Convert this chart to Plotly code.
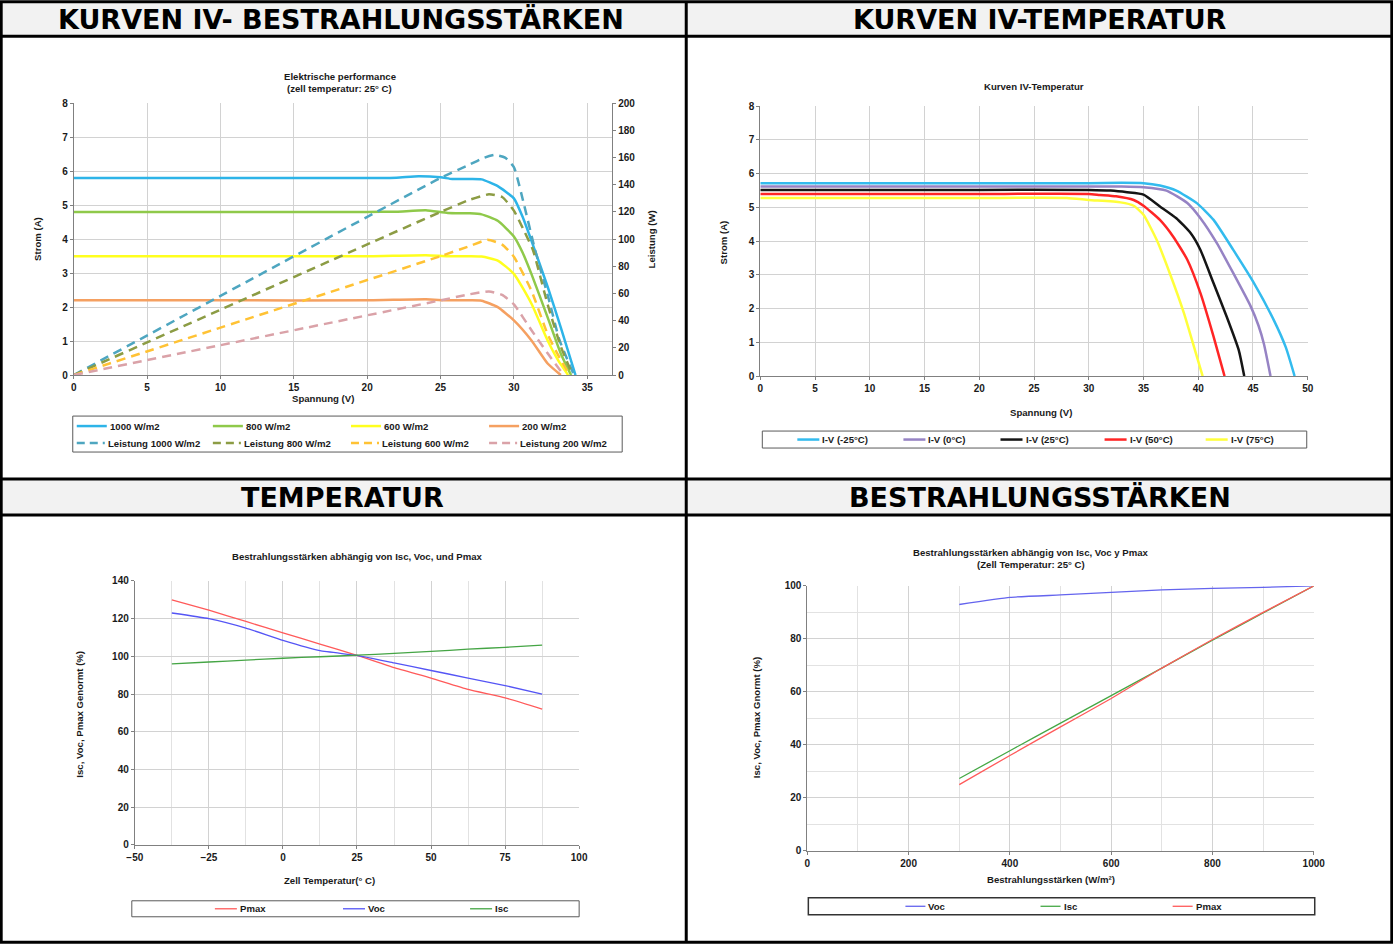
import plotly.graph_objects as go

# reference picture size
W, H = 1393, 944
# observed capture transform (image = S * page + O); positions below are given in picture pixels
SX, OX = 0.985, 8.3
SY, OY = 0.989, 4.7
FW, FH = 1407, 951
FONT = "Liberation Sans"
HFONT = "DejaVu Sans"

# ---------------- Chart 1: IV curves vs irradiance ----------------
c1_names_iv = ["1000 W/m2", "800 W/m2", "600 W/m2", "200 W/m2"]
c1_names_p = ["Leistung 1000 W/m2", "Leistung 800 W/m2", "Leistung 600 W/m2", "Leistung 200 W/m2"]
c1_colors_iv = ["#2db4e8", "#8fc94a", "#ffff1e", "#f5a061"]
c1_colors_p = ["#4ea6c0", "#8c9c44", "#ffc234", "#daa2a8"]

c1_v_1000 = [0, 10, 20, 22, 23.5, 25, 25.8, 27, 27.8, 28.9, 30.0, 30.6, 31.2, 32.3, 33.2, 34.2]
c1_i_1000 = [5.8, 5.8, 5.8, 5.81, 5.85, 5.82, 5.77, 5.77, 5.76, 5.56, 5.2, 4.65, 3.95, 2.6, 1.4, 0]
c1_v_800 = [0, 10, 20, 22, 24, 25.5, 27, 27.8, 28.9, 30.0, 30.6, 31.2, 32.3, 33.2, 33.9]
c1_i_800 = [4.8, 4.8, 4.8, 4.81, 4.85, 4.77, 4.76, 4.73, 4.54, 4.08, 3.6, 2.97, 1.7, 0.63, 0]
c1_v_600 = [0, 10, 20, 24, 25.5, 27, 27.8, 28.9, 30.0, 31.2, 32.3, 33.0, 33.7]
c1_i_600 = [3.5, 3.5, 3.5, 3.53, 3.5, 3.5, 3.49, 3.37, 2.98, 2.1, 1.02, 0.45, 0]
c1_v_200 = [0, 10, 20, 24, 25.5, 27, 27.8, 28.9, 30.0, 31.2, 32.3, 33.2]
c1_i_200 = [2.2, 2.2, 2.2, 2.23, 2.2, 2.2, 2.19, 2.0, 1.61, 1.02, 0.34, 0]

c1_pv_1000 = [0, 25, 27, 28, 28.7, 29.4, 30.0, 30.7, 31.4, 32.4, 33.1, 34.1]
c1_p_1000 = [0, 145, 155, 160, 162, 160, 153, 125, 94, 55, 26, 0]
c1_pv_800 = [0, 25, 27, 28.3, 29.2, 30.0, 30.7, 31.3, 32.3, 33.2, 34.0]
c1_p_800 = [0, 120, 129, 133, 131, 121, 106, 92, 52, 21, 0]
c1_pv_600 = [0, 25, 27, 28.2, 29.2, 30.0, 31.2, 32.3, 33.0, 33.8]
c1_p_600 = [0, 87.5, 95, 99.5, 96, 87, 62, 30, 15, 0]
c1_pv_200 = [0, 25, 27, 28.3, 29.2, 30.0, 31.2, 32.3, 33.4]
c1_p_200 = [0, 55, 59.5, 61.5, 59, 52, 33, 16, 0]

# ---------------- Chart 2: IV curves vs temperature ----------------
c2_names = ["I-V (-25°C)", "I-V (0°C)", "I-V (25°C)", "I-V (50°C)", "I-V (75°C)"]
c2_colors = ["#33bbee", "#9683c4", "#151515", "#ff2525", "#ffff3a"]
c2_v_m25 = [0, 10, 20, 30, 33, 35, 36.5, 38, 39.9, 41.4, 43.2, 45.1, 46.9, 48.0, 48.8]
c2_i_m25 = [5.72, 5.72, 5.72, 5.72, 5.73, 5.72, 5.65, 5.5, 5.12, 4.63, 3.74, 2.75, 1.66, 0.85, 0]
c2_v_0 = [0, 10, 20, 30, 33, 35, 37.1, 39.0, 40.2, 41.7, 43.2, 44.8, 45.5, 46.0, 46.6]
c2_i_0 = [5.62, 5.62, 5.62, 5.62, 5.62, 5.6, 5.5, 5.13, 4.68, 3.94, 3.05, 2.06, 1.5, 0.95, 0]
c2_v_25 = [0, 10, 20, 30, 32, 33.5, 35, 36.5, 38, 39.3, 40.2, 41.4, 42.6, 43.7, 44.2]
c2_i_25 = [5.52, 5.52, 5.52, 5.52, 5.5, 5.45, 5.38, 5.03, 4.68, 4.24, 3.74, 2.75, 1.76, 0.77, 0]
c2_v_50 = [0, 10, 20, 30, 31, 32.5, 34.1, 35, 36.5, 37.7, 39.0, 40.2, 41.4, 42.4]
c2_i_50 = [5.4, 5.4, 5.4, 5.4, 5.37, 5.33, 5.22, 5.05, 4.63, 4.14, 3.45, 2.46, 1.17, 0]
c2_v_75 = [0, 10, 20, 28, 30, 32.9, 34.1, 35, 36.2, 37.4, 38.7, 39.7, 40.4]
c2_i_75 = [5.28, 5.28, 5.28, 5.28, 5.22, 5.15, 5.05, 4.78, 4.04, 3.05, 1.86, 0.77, 0]

# ---------------- Chart 3: temperature dependence ----------------
c3_names = ["Pmax", "Voc", "Isc"]
c3_colors = ["#ff5a5a", "#5555f5", "#45a545"]
c3_temp = [-37.5, -25, -12.5, 0, 12.5, 25, 37.5, 50, 62.5, 75, 87.5]
c3_pmax = [130, 124.5, 118.5, 112.5, 106.5, 100.5, 94, 88.5, 82.5, 78, 72]
c3_voc = [123, 120, 115, 108.5, 103, 100.5, 96.5, 92.5, 88.5, 84.5, 80]
c3_isc = [96, 97, 98, 99, 99.8, 100.6, 101.6, 102.6, 103.8, 104.8, 106]

# ---------------- Chart 4: irradiance dependence ----------------
c4_names = ["Voc", "Isc", "Pmax"]
c4_colors = ["#6464ee", "#45a845", "#ff5a5a"]
c4_irr = [300, 400, 500, 600, 700, 800, 900, 1000]
c4_voc = [93, 95.7, 96.6, 97.6, 98.5, 99.1, 99.5, 100]
c4_isc = [27.3, 37.8, 48.2, 58.6, 69.0, 79.5, 89.8, 100]
c4_pmax = [25, 36, 46.8, 57.5, 69, 79.8, 90, 100]

headers = ["KURVEN IV- BESTRAHLUNGSSTÄRKEN", "KURVEN IV-TEMPERATUR", "TEMPERATUR", "BESTRAHLUNGSSTÄRKEN"]


def X(p):
    return ((p - OX) / SX) / FW


def Y(p):
    return 1 - ((p - OY) / SY) / FH


fig = go.Figure()

# chart 1 traces
for v, i, n, c in zip([c1_v_1000, c1_v_800, c1_v_600, c1_v_200],
                      [c1_i_1000, c1_i_800, c1_i_600, c1_i_200], c1_names_iv, c1_colors_iv):
    fig.add_trace(go.Scatter(x=v, y=i, name=n, mode="lines", xaxis="x", yaxis="y", showlegend=False,
                             line=dict(color=c, width=2.5, shape="spline", smoothing=0.5)))
for v, p, n, c in zip([c1_pv_1000, c1_pv_800, c1_pv_600, c1_pv_200],
                      [c1_p_1000, c1_p_800, c1_p_600, c1_p_200], c1_names_p, c1_colors_p):
    fig.add_trace(go.Scatter(x=v, y=p, name=n, mode="lines", xaxis="x", yaxis="y2", showlegend=False,
                             line=dict(color=c, width=2.5, dash="9px,6px", shape="spline", smoothing=0.5)))

# chart 2 traces
for v, i, n, c in zip([c2_v_m25, c2_v_0, c2_v_25, c2_v_50, c2_v_75],
                      [c2_i_m25, c2_i_0, c2_i_25, c2_i_50, c2_i_75], c2_names, c2_colors):
    fig.add_trace(go.Scatter(x=v, y=i, name=n, mode="lines", xaxis="x3", yaxis="y3", showlegend=False,
                             line=dict(color=c, width=2.5, shape="spline", smoothing=0.5)))

# chart 3 traces
for s, n, c in zip([c3_pmax, c3_voc, c3_isc], c3_names, c3_colors):
    fig.add_trace(go.Scatter(x=c3_temp, y=s, name=n, mode="lines", xaxis="x4", yaxis="y4", showlegend=False,
                             line=dict(color=c, width=1.3, shape="spline", smoothing=0.4)))

# chart 4 traces
for s, n, c in zip([c4_voc, c4_isc, c4_pmax], c4_names, c4_colors):
    fig.add_trace(go.Scatter(x=c4_irr, y=s, name=n, mode="lines", xaxis="x5", yaxis="y5", showlegend=False,
                             line=dict(color=c, width=1.3, shape="spline", smoothing=0.4)))

tickfont = dict(family=FONT, size=10, color="#1a1a1a", weight="bold")


def ax(domain, rng, dtick, anchor, **kw):
    d = dict(domain=domain, range=rng, dtick=dtick, tick0=rng[0], anchor=anchor,
             showline=True, linecolor="#808080", linewidth=1,
             showgrid=True, gridcolor="#d2d2d2", gridwidth=1,
             ticks="outside", ticklen=3, tickcolor="#808080",
             tickfont=tickfont, zeroline=False, fixedrange=True)
    d.update(kw)
    return d


minor_grid = dict(showgrid=True, gridcolor="#e2e2e2", ticks="")

fig.update_layout(
    width=FW, height=FH,
    margin=dict(l=0, r=0, t=0, b=0),
    paper_bgcolor="white", plot_bgcolor="white",
    showlegend=False,
    xaxis=ax([X(74), X(612)], [0, 36.7], 5, "y", tick0=0),
    yaxis=ax([Y(375), Y(103)], [0, 8], 1, "x"),
    yaxis2=dict(overlaying="y", side="right", anchor="x", range=[0, 200], dtick=20,
                showgrid=False, showline=True, linecolor="#808080", linewidth=1,
                ticks="outside", ticklen=3, tickcolor="#808080", tickfont=tickfont,
                zeroline=False, fixedrange=True),
    xaxis3=ax([X(760), X(1307)], [0, 50], 5, "y3"),
    yaxis3=ax([Y(376), Y(106)], [0, 8], 1, "x3"),
    xaxis4=ax([X(135), X(579)], [-50, 100], 25, "y4", minor=dict(dtick=12.5, **minor_grid)),
    yaxis4=ax([Y(845), Y(581)], [0, 140], 20, "x4"),
    xaxis5=ax([X(807), X(1313)], [0, 1000], 200, "y5", minor=dict(dtick=100, **minor_grid)),
    yaxis5=ax([Y(851), Y(586)], [0, 100], 20, "x5", minor=dict(dtick=10, **minor_grid)),
)

shapes = []
# header fills
for y0, y1 in [(2, 36), (479, 515)]:
    shapes.append(dict(type="rect", xref="paper", yref="paper", x0=X(2), x1=X(1391), y0=Y(y1), y1=Y(y0),
                       fillcolor="#f2f2f2", line=dict(width=0), layer="below"))
# table lines
BL = dict(color="black", width=3)
shapes.append(dict(type="rect", xref="paper", yref="paper", x0=X(1.5), x1=X(1391), y0=Y(942.5), y1=Y(1.5),
                   line=BL))
for yy in [36, 479, 515]:
    shapes.append(dict(type="line", xref="paper", yref="paper", x0=X(1.5), x1=X(1391), y0=Y(yy), y1=Y(yy),
                       line=BL))
shapes.append(dict(type="line", xref="paper", yref="paper", x0=X(686), x1=X(686), y0=Y(942.5), y1=Y(1.5),
                   line=BL))

# legend boxes
for x0, x1, y0, y1, lw, lc in [(73, 622, 416, 452, 1, "#5a5a5a"), (762, 1306, 431, 448, 1, "#5a5a5a"),
                               (132, 579, 901, 917, 1, "#5a5a5a"), (808, 1314, 898, 915, 1.5, "#333333")]:
    shapes.append(dict(type="rect", xref="paper", yref="paper", x0=X(x0), x1=X(x1), y0=Y(y1), y1=Y(y0),
                       line=dict(color=lc, width=lw), fillcolor="white", layer="below"))


def legend_entry(x0, length, y, color, name, width=2.5, dash="solid", size=9.6):
    shapes.append(dict(type="line", xref="paper", yref="paper", x0=X(x0), x1=X(x0 + length), y0=Y(y), y1=Y(y),
                       line=dict(color=color, width=width, dash=dash)))
    fig.add_annotation(x=X(x0 + length + 1), y=Y(y), xref="paper", yref="paper", text=name, showarrow=False,
                       xanchor="left", yanchor="middle",
                       font=dict(family=FONT, size=size, color="#1a1a1a", weight="bold"))


c1_leg_x = [77, 213, 351, 489]
for k in range(4):
    legend_entry(c1_leg_x[k], 30, 426, c1_colors_iv[k], c1_names_iv[k])
    legend_entry(c1_leg_x[k], 28, 443, c1_colors_p[k], c1_names_p[k], dash="8px,5px")
for k, x0 in enumerate([797, 903, 1000, 1104, 1205]):
    legend_entry(x0, 22, 439.5, c2_colors[k], c2_names[k], width=2.5)
for k, x0 in enumerate([215, 343, 470]):
    legend_entry(x0, 22, 909, c3_colors[k], c3_names[k], width=1.3)
for k, x0 in enumerate([905, 1040, 1172]):
    legend_entry(x0, 20, 906.5, c4_colors[k], c4_names[k], width=1.3)

fig.update_layout(shapes=shapes)


def txt(x, y, s, size=9.6, angle=0, family=FONT, color="#1a1a1a"):
    fig.add_annotation(x=X(x), y=Y(y), xref="paper", yref="paper", text=s, showarrow=False,
                       xanchor="center", yanchor="middle", textangle=angle,
                       font=dict(family=family, size=size, color=color, weight="bold"))


# headers
txt(341, 19.5, headers[0], size=27, family=HFONT, color="black")
txt(1039, 19.5, headers[1], size=27, family=HFONT, color="black")
txt(343, 497.5, headers[2], size=27, family=HFONT, color="black")
txt(1039, 497.5, headers[3], size=27, family=HFONT, color="black")

# chart 1 texts
txt(340, 76, "Elektrische performance")
txt(340, 88, "(zell temperatur: 25° C)")
txt(37, 239, "Strom (A)", angle=-90)
txt(651, 239, "Leistung (W)", angle=-90)
txt(323, 398, "Spannung (V)")

# chart 2 texts
txt(1033, 86, "Kurven IV-Temperatur")
txt(723, 242, "Strom (A)", angle=-90)
txt(1040, 412, "Spannung (V)")

# chart 3 texts
txt(358, 557, "Bestrahlungsstärken abhängig von Isc, Voc, und Pmax")
txt(80, 714, "Isc, Voc, Pmax Genormt (%)", angle=-90)
txt(330, 881, "Zell Temperatur(° C)")

# chart 4 texts
txt(1030, 553, "Bestrahlungsstärken abhängig von Isc, Voc y Pmax")
txt(1030, 565, "(Zell Temperatur: 25° C)")
txt(757, 718, "Isc, Voc, Pmax Gnormt (%)", angle=-90)
txt(1050, 880, "Bestrahlungsstärken (W/m²)")

fig.write_html("out.html", config={"displayModeBar": False},
               post_script="document.body.style.margin='0';document.body.style.padding='0';"
                           "document.documentElement.style.overflow='hidden';")
